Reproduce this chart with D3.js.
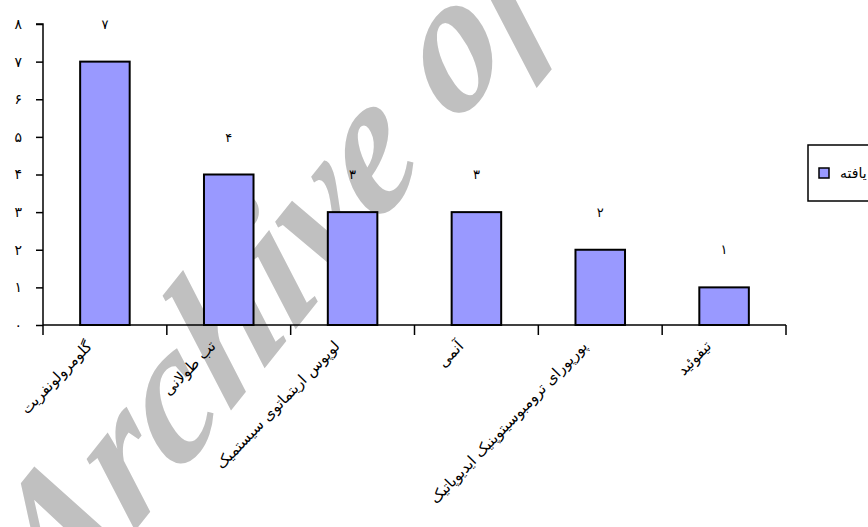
<!DOCTYPE html>
<html>
<head>
<meta charset="utf-8">
<script src="https://cdn.jsdelivr.net/npm/d3@7"></script>
<style>
    body{ margin:0; background:#ffffff; }
    svg{ display:block; }
    .fa{ font-family: "DejaVu Sans", "Noto Sans", sans-serif; }
</style>
</head>
<body>
<div id="chart"></div>
<script>
var width = 868;
var height = 527;

var categories = ["گلومرولونفریت", "تب طولانی", "لوپوس اریتماتوی سیستمیک", "آنمی", "پورپورای ترومبوسیتوپنیک ایدیوپاتیک", "تیفوئید"];
var values = [7, 4, 3, 3, 2, 1];
var yTicks = [0, 1, 2, 3, 4, 5, 6, 7, 8];
var yTickLabels = ["٠", "۱", "۲", "۳", "۴", "۵", "۶", "۷", "۸"];
var valueLabels = ["۷", "۴", "۳", "۳", "۲", "۱"];
var legendLabel = "یافته";
var watermark = "Archive of SID";

var plotLeft = 43;
var plotRight = 786;
var plotTop = 24;
var plotBottom = 325;

var svg = d3.select("#chart").append("svg").attr("width", width).attr("height", height);

var x = d3.scaleBand().domain(categories).range([plotLeft, plotRight]).padding(0);
var y = d3.scaleLinear().domain([0, 8]).range([plotBottom, plotTop]);
var barWidth = x.bandwidth()*0.4;

//watermark sits behind everything, a bit stretched vertically like the scan
svg.append("text")
    .text(watermark)
    .attr("transform", "translate(56,630) scale(1,1.3) rotate(-44)")
    .attr("font-family", "'Liberation Serif', serif")
    .attr("font-weight", "bold")
    .attr("font-style", "italic")
    .attr("font-size", 160)
    .attr("fill", "#c0c0c0");

//bars
svg.selectAll(".bar")
    .data(values)
    .enter()
    .append("rect")
    .attr("class", "bar")
    .attr("x", function(d, i){ return x(categories[i]) + x.bandwidth()/2 - barWidth/2; })
    .attr("y", function(d){ return y(d); })
    .attr("width", barWidth)
    .attr("height", function(d){ return y(0) - y(d); })
    .attr("fill", "#9999ff")
    .attr("stroke", "black")
    .attr("stroke-width", 2);

//value labels above the bars
svg.selectAll(".val")
    .data(values)
    .enter()
    .append("text")
    .attr("class", "val fa")
    .text(function(d, i){ return valueLabels[i]; })
    .attr("x", function(d, i){ return x(categories[i]) + x.bandwidth()/2; })
    .attr("y", function(d){ return y(d) - 33; })
    .attr("text-anchor", "middle")
    .attr("font-size", 13)
    .attr("fill", "black");

//y axis
var yAxis = d3.axisLeft(y)
    .tickValues(yTicks)
    .tickFormat(function(d, i){ return yTickLabels[i]; })
    .tickSize(7)
    .tickPadding(14);

var gy = svg.append("g")
    .attr("transform", "translate(" + plotLeft + ",0)")
    .call(yAxis);
gy.select(".domain").attr("stroke", "black").attr("stroke-width", 1.5).attr("d", "M-7," + plotTop + "H0V" + plotBottom);
gy.selectAll(".tick line").attr("stroke", "black").attr("stroke-width", 1.5);
gy.selectAll(".tick text")
    .attr("class", "fa")
    .attr("font-size", 14)
    .attr("fill", "black");

//x axis, ticks between the categories
var gx = svg.append("g").attr("transform", "translate(0," + plotBottom + ")");
gx.append("line")
    .attr("x1", plotLeft)
    .attr("x2", plotRight)
    .attr("y1", 0)
    .attr("y2", 0)
    .attr("stroke", "black")
    .attr("stroke-width", 1.5);

var bounds = categories.map(function(c){ return x(c); }).concat([plotRight]);
gx.selectAll(".xtick")
    .data(bounds)
    .enter()
    .append("line")
    .attr("x1", function(d){ return d; })
    .attr("x2", function(d){ return d; })
    .attr("y1", 0)
    .attr("y2", 10)
    .attr("stroke", "black")
    .attr("stroke-width", 1.5);

gx.selectAll(".xlabel")
    .data(categories)
    .enter()
    .append("text")
    .attr("class", "xlabel fa")
    .text(function(d){ return d; })
    .attr("transform", function(d){
        return "translate(" + (x(d) + x.bandwidth()/2 - 12) + ",22) rotate(-46)";
    })
    .attr("text-anchor", "end")
    .attr("font-size", 15)
    .attr("fill", "black");

//legend, cut off by the right edge
var legend = svg.append("g").attr("transform", "translate(808,145)");
legend.append("rect")
    .attr("x", 0)
    .attr("y", 0)
    .attr("width", 80)
    .attr("height", 56)
    .attr("fill", "white")
    .attr("stroke", "black")
    .attr("stroke-width", 1.5);
legend.append("rect")
    .attr("x", 11)
    .attr("y", 23)
    .attr("width", 10)
    .attr("height", 10)
    .attr("fill", "#9999ff")
    .attr("stroke", "black")
    .attr("stroke-width", 1.5);
legend.append("text")
    .attr("class", "fa")
    .text(legendLabel)
    .attr("x", 32)
    .attr("y", 33)
    .attr("text-anchor", "start")
    .attr("font-size", 14)
    .attr("fill", "black");
</script>
</body>
</html>
